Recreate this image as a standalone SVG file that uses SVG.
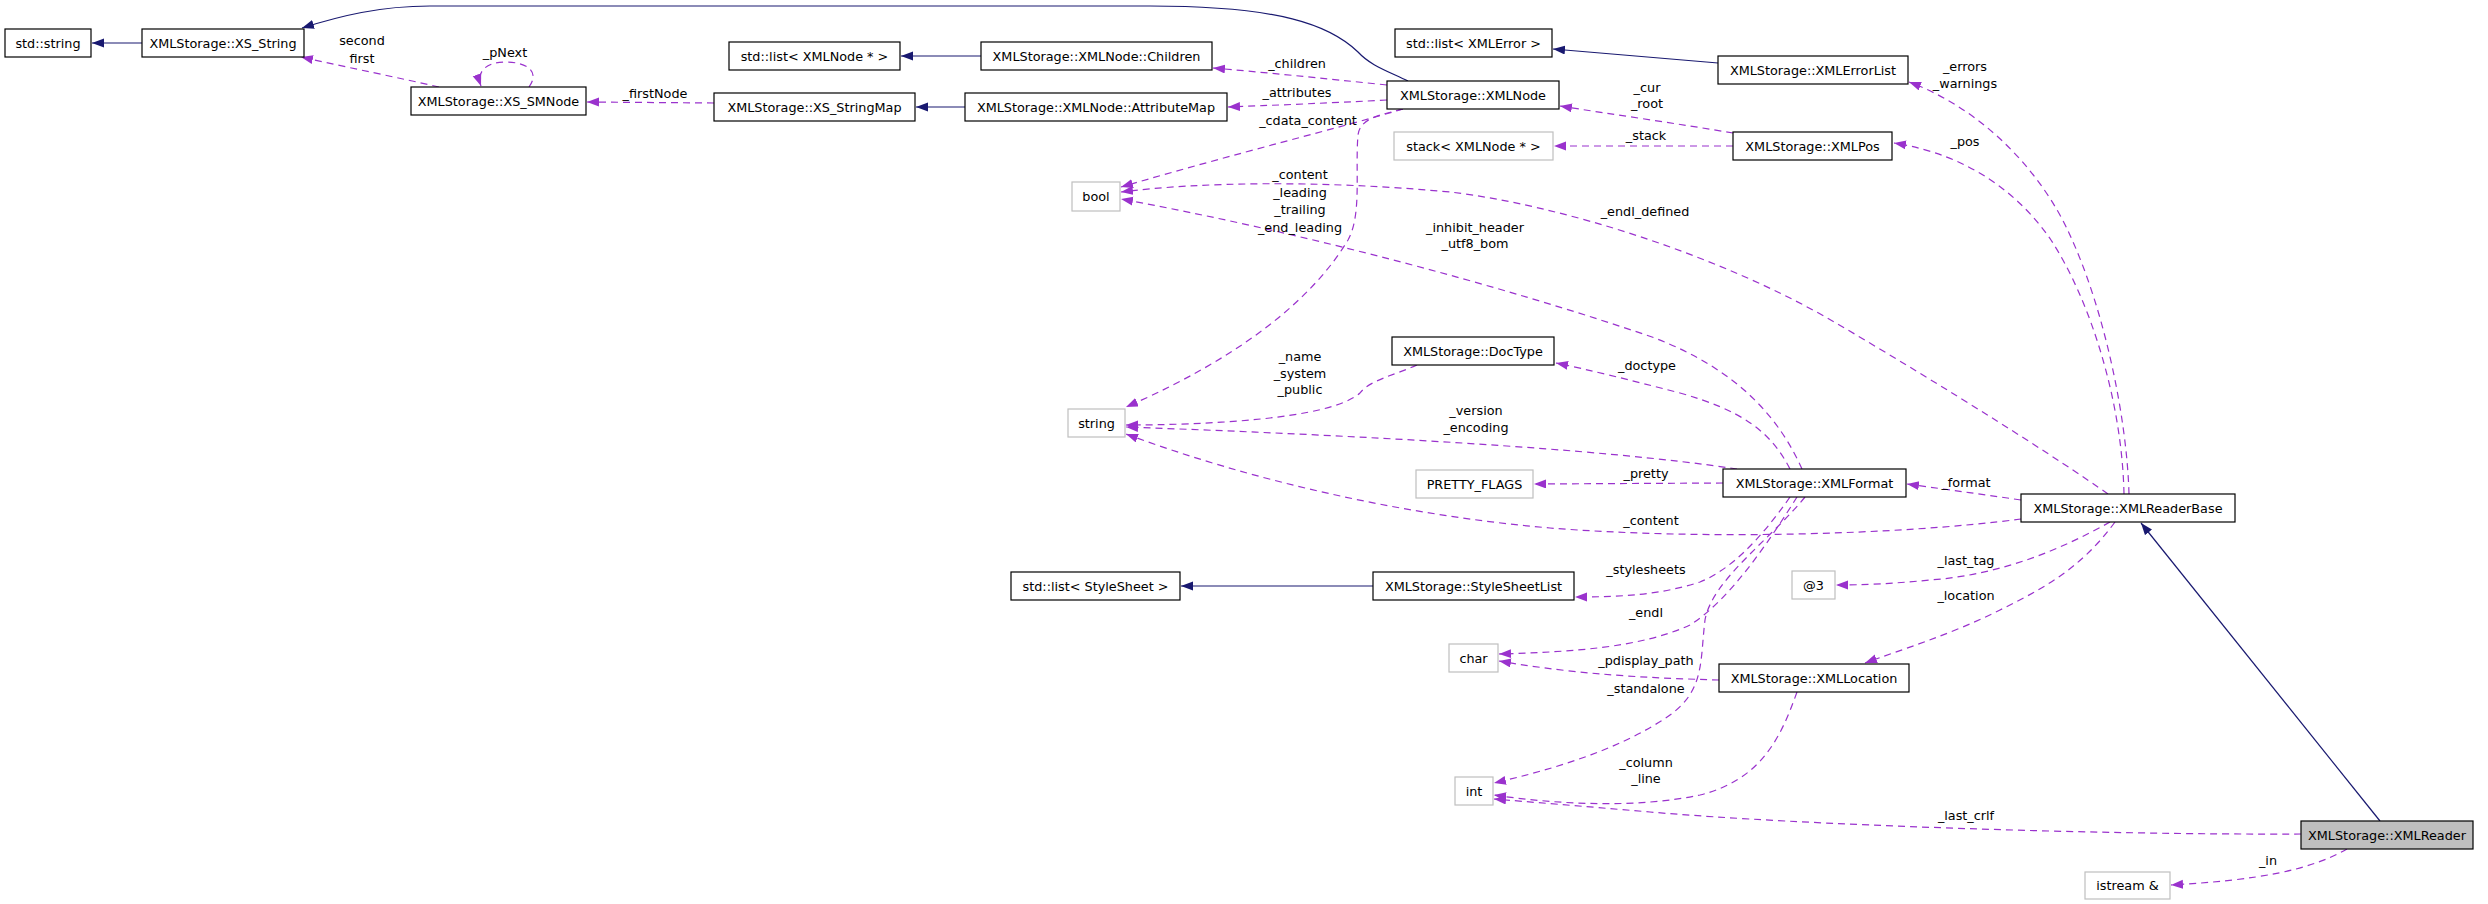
<svg xmlns="http://www.w3.org/2000/svg" width="2488" height="904" viewBox="0 0 2488 904">
<style>
text{font-family:"DejaVu Sans","Liberation Sans",sans-serif;font-size:12.8px;fill:#000;text-anchor:middle}
.n rect{fill:#fff;stroke:#000;stroke-width:1.2}
.g rect{fill:#fff;stroke:#bfbfbf;stroke-width:1.2}
.cur rect{fill:#bfbfbf;stroke:#000;stroke-width:1.2}
.inh{fill:none;stroke:#191970;stroke-width:1.2;marker-end:url(#an)}
.use{fill:none;stroke:#9a32cd;stroke-width:1.2;stroke-dasharray:7,5;marker-end:url(#ap)}
</style>
<defs>
<marker id="an" markerUnits="userSpaceOnUse" markerWidth="14" markerHeight="10" refX="12" refY="4.5" orient="auto"><path d="M0,0 L12,4.5 L0,9 z" fill="#191970"/></marker>
<marker id="ap" markerUnits="userSpaceOnUse" markerWidth="14" markerHeight="10" refX="12" refY="4.5" orient="auto"><path d="M0,0 L12,4.5 L0,9 z" fill="#9a32cd"/></marker>
</defs>
<rect width="2488" height="904" fill="#fff"/>
<g id="connectors">
<path class="inh" d="M142,43 L92,43"/>
<path class="inh" d="M1408,81 C1385,70 1370,65 1358,52 C1330,25 1280,6 1150,6 L430,6 C380,6 340,16 302,28"/>
<path class="inh" d="M981,56 L901,56"/>
<path class="inh" d="M965,107 L916,107"/>
<path class="inh" d="M1718,63 L1553,49"/>
<path class="inh" d="M1373,586 L1181,586"/>
<path class="inh" d="M2380,821 L2141,523"/>
<path class="use" d="M439,87 C400,78 350,68 301,57"/>
<path class="use" d="M529,87 C540,72 528,62 505,62 C486,62 476,72 481,86"/>
<path class="use" d="M714,103 L587,102"/>
<path class="use" d="M1387,85 C1320,78 1260,72 1213,68"/>
<path class="use" d="M1387,100 C1330,103 1280,105 1228,107"/>
<path class="use" d="M1403,109 C1350,125 1230,155 1121,187"/>
<path class="use" d="M1403,109 C1380,115 1360,118 1358,135 C1355,170 1362,215 1348,240 C1300,320 1200,375 1126,407"/>
<path class="use" d="M1733,133 C1680,124 1610,114 1560,106"/>
<path class="use" d="M1733,146 L1554,146"/>
<path class="use" d="M2129,494 C2127,420 2105,310 2069,233 C2045,180 1990,112 1909,82"/>
<path class="use" d="M2124,494 C2122,400 2090,300 2051,240 C2020,195 1970,155 1894,143"/>
<path class="use" d="M2108,494 C2060,460 1950,390 1836,323 C1720,255 1560,205 1450,192 C1320,180 1200,182 1121,192"/>
<path class="use" d="M1802,469 C1780,420 1740,370 1652,337 C1500,285 1300,232 1121,199"/>
<path class="use" d="M1417,365 C1395,375 1370,380 1360,393 C1330,420 1200,425 1126,425"/>
<path class="use" d="M1790,469 C1770,430 1740,410 1680,393 C1630,380 1590,370 1556,363"/>
<path class="use" d="M1737,469 C1600,448 1350,435 1126,427"/>
<path class="use" d="M1723,483 L1534,484"/>
<path class="use" d="M2021,500 C1980,494 1950,490 1907,484"/>
<path class="use" d="M2021,519 C1900,535 1700,540 1550,528 C1400,515 1250,480 1126,434"/>
<path class="use" d="M1790,497 C1760,540 1730,570 1700,582 C1660,595 1620,597 1575,597"/>
<path class="use" d="M1797,497 C1770,540 1730,600 1690,625 C1640,648 1570,652 1499,654"/>
<path class="use" d="M1805,497 C1770,540 1712,580 1705,620 C1700,660 1705,690 1670,715 C1620,750 1550,770 1494,783"/>
<path class="use" d="M1719,680 C1650,678 1580,675 1499,661"/>
<path class="use" d="M2110,522 C2060,550 2000,575 1930,580 C1890,584 1860,585 1836,585"/>
<path class="use" d="M2115,522 C2080,570 2040,590 2000,610 C1950,635 1900,650 1865,663"/>
<path class="use" d="M1797,692 C1780,740 1760,780 1700,795 C1640,808 1560,805 1494,795"/>
<path class="use" d="M2301,834 C2100,835 1800,825 1650,812 C1580,806 1530,802 1494,799"/>
<path class="use" d="M2347,849 C2310,870 2260,880 2171,885"/>
<text x="362" y="45">second</text><text x="362" y="63">first</text>
<text x="505" y="57">_pNext</text>
<text x="655" y="98">_firstNode</text>
<text x="1297" y="68">_children</text>
<text x="1297" y="97">_attributes</text>
<text x="1308" y="125">_cdata_content</text>
<text x="1300" y="179">_content</text><text x="1300" y="197">_leading</text><text x="1300" y="214">_trailing</text><text x="1300" y="232">_end_leading</text>
<text x="1647" y="92">_cur</text><text x="1647" y="108">_root</text>
<text x="1646" y="140">_stack</text>
<text x="1965" y="71">_errors</text><text x="1965" y="88">_warnings</text>
<text x="1965" y="146">_pos</text>
<text x="1645" y="216">_endl_defined</text>
<text x="1475" y="232">_inhibit_header</text><text x="1475" y="248">_utf8_bom</text>
<text x="1300" y="361">_name</text><text x="1300" y="378">_system</text><text x="1300" y="394">_public</text>
<text x="1647" y="370">_doctype</text>
<text x="1476" y="415">_version</text><text x="1476" y="432">_encoding</text>
<text x="1646" y="478">_pretty</text>
<text x="1966" y="487">_format</text>
<text x="1651" y="525">_content</text>
<text x="1646" y="574">_stylesheets</text>
<text x="1646" y="617">_endl</text>
<text x="1646" y="665">_pdisplay_path</text>
<text x="1646" y="693">_standalone</text>
<text x="1966" y="565">_last_tag</text>
<text x="1966" y="600">_location</text>
<text x="1646" y="767">_column</text><text x="1646" y="783">_line</text>
<text x="1966" y="820">_last_crlf</text>
<text x="2268" y="865">_in</text>
</g>
<g id="n_std_string" class="n"><rect x="5" y="29" width="86" height="28"/><text x="48" y="47.5">std::string</text></g>
<g id="n_XS_String" class="n"><rect x="142" y="29" width="162" height="28"/><text x="223" y="47.5">XMLStorage::XS_String</text></g>
<g id="n_XS_SMNode" class="n"><rect x="411" y="87" width="175" height="28"/><text x="498.5" y="105.5">XMLStorage::XS_SMNode</text></g>
<g id="n_list_XMLNode" class="n"><rect x="729" y="42" width="171" height="28"/><text x="814.5" y="60.5">std::list&lt; XMLNode * &gt;</text></g>
<g id="n_Children" class="n"><rect x="981" y="42" width="231" height="28"/><text x="1096.5" y="60.5">XMLStorage::XMLNode::Children</text></g>
<g id="n_XS_StringMap" class="n"><rect x="714" y="93" width="201" height="28"/><text x="814.5" y="111.5">XMLStorage::XS_StringMap</text></g>
<g id="n_AttributeMap" class="n"><rect x="965" y="93" width="262" height="28"/><text x="1096" y="111.5">XMLStorage::XMLNode::AttributeMap</text></g>
<g id="n_XMLNode" class="n"><rect x="1387" y="81" width="172" height="28"/><text x="1473" y="99.5">XMLStorage::XMLNode</text></g>
<g id="n_list_XMLError" class="n"><rect x="1395" y="29" width="157" height="28"/><text x="1473.5" y="47.5">std::list&lt; XMLError &gt;</text></g>
<g id="n_XMLErrorList" class="n"><rect x="1718" y="56" width="190" height="28"/><text x="1813" y="74.5">XMLStorage::XMLErrorList</text></g>
<g id="n_stack" class="g"><rect x="1394" y="132" width="159" height="28"/><text x="1473.5" y="150.5">stack&lt; XMLNode * &gt;</text></g>
<g id="n_XMLPos" class="n"><rect x="1733" y="132" width="159" height="28"/><text x="1812.5" y="150.5">XMLStorage::XMLPos</text></g>
<g id="n_bool" class="g"><rect x="1072" y="182" width="48" height="29"/><text x="1096" y="201">bool</text></g>
<g id="n_DocType" class="n"><rect x="1392" y="337" width="162" height="28"/><text x="1473" y="355.5">XMLStorage::DocType</text></g>
<g id="n_string" class="g"><rect x="1068" y="409" width="57" height="28"/><text x="1096.5" y="427.5">string</text></g>
<g id="n_PRETTY_FLAGS" class="g"><rect x="1416" y="470" width="117" height="28"/><text x="1474.5" y="488.5">PRETTY_FLAGS</text></g>
<g id="n_XMLFormat" class="n"><rect x="1723" y="469" width="183" height="28"/><text x="1814.5" y="487.5">XMLStorage::XMLFormat</text></g>
<g id="n_XMLReaderBase" class="n"><rect x="2021" y="494" width="214" height="28"/><text x="2128" y="512.5">XMLStorage::XMLReaderBase</text></g>
<g id="n_at3" class="g"><rect x="1792" y="571" width="43" height="28"/><text x="1813.5" y="589.5">@3</text></g>
<g id="n_list_StyleSheet" class="n"><rect x="1011" y="572" width="169" height="28"/><text x="1095.5" y="590.5">std::list&lt; StyleSheet &gt;</text></g>
<g id="n_StyleSheetList" class="n"><rect x="1373" y="572" width="201" height="28"/><text x="1473.5" y="590.5">XMLStorage::StyleSheetList</text></g>
<g id="n_char" class="g"><rect x="1449" y="644" width="49" height="28"/><text x="1473.5" y="662.5">char</text></g>
<g id="n_XMLLocation" class="n"><rect x="1719" y="664" width="190" height="28"/><text x="1814" y="682.5">XMLStorage::XMLLocation</text></g>
<g id="n_int" class="g"><rect x="1455" y="777" width="38" height="28"/><text x="1474" y="795.5">int</text></g>
<g id="n_XMLReader" class="cur"><rect x="2301" y="821" width="172" height="28"/><text x="2387" y="839.5">XMLStorage::XMLReader</text></g>
<g id="n_istream" class="g"><rect x="2085" y="872" width="85" height="27"/><text x="2127.5" y="890">istream &amp;</text></g>
</svg>
